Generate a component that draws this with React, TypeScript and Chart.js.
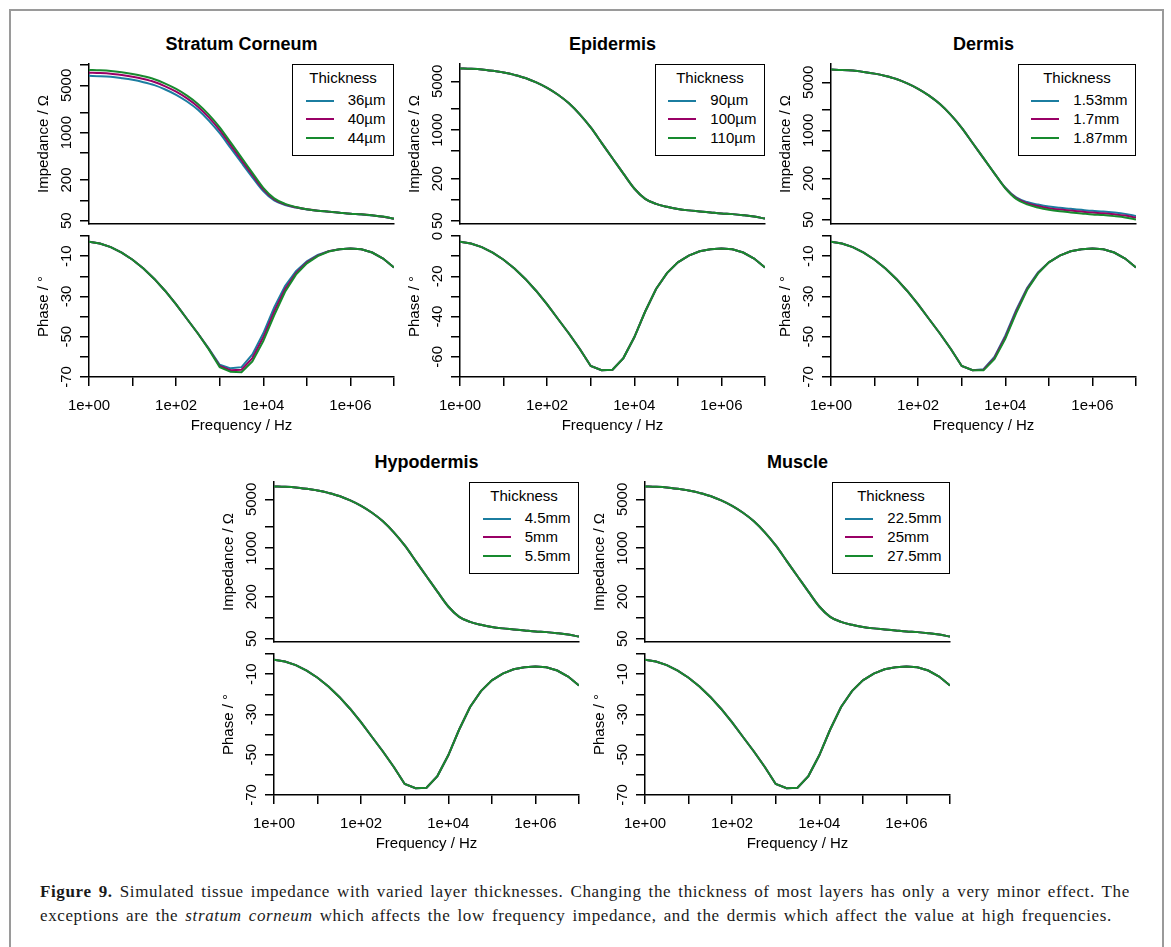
import React, { useEffect, useRef } from 'react';
import { Chart, registerables } from 'chart.js';

Chart.register(...registerables);
Chart.defaults.font.family = '"Liberation Sans", Arial, sans-serif';

// ---------------- data ----------------
const FREQ_HZ = [
  1, 1.778, 3.162, 5.623, 10, 17.78, 31.62, 56.23, 100, 177.8, 316.2, 562.3,
  1000, 1778, 3162, 5623, 10000, 17783, 31623, 56234, 100000, 177828, 316228,
  562341, 1000000, 1778279, 3162278, 5623413, 10000000,
];

// default layer thicknesses (curves that overlap in every panel)
const BASE_IMPEDANCE = [
  7690, 7600, 7430, 7100, 6710, 6200, 5600, 4830, 4030, 3210, 2420, 1680,
  1090, 656, 394, 237, 145, 103, 87, 79, 73.6, 70.3, 68, 65.7, 63.5, 62.1, 60,
  57.4, 53.6,
];
const BASE_PHASE = [
  -2.8, -3.7, -5.5, -8.3, -11.8, -16.1, -21.3, -27.3, -34.0, -41.2, -48.4,
  -56.1, -64.5, -66.6, -66.4, -60.6, -50.3, -37.5, -26.3, -18.4, -13.1, -9.7,
  -7.6, -6.6, -6.2, -6.6, -8.2, -11.2, -15.6,
];

// stratum corneum 36um / 44um
const SC_IMP_36 = [
  6920, 6840, 6690, 6390, 6040, 5580, 5040, 4350, 3630, 2890, 2180, 1510, 981,
  594, 359, 219, 137, 99.4, 85.3, 78.2, 73.2, 70.1, 67.9, 65.6, 63.4, 62.0,
  59.9, 57.3, 53.5,
];
const SC_IMP_44 = [
  8460, 8360, 8170, 7810, 7380, 6820, 6160, 5310, 4430, 3530, 2660, 1850,
  1200, 718, 429, 255, 153, 107, 88.7, 79.8, 74, 70.4, 68.1, 65.8, 63.6, 62.2,
  60.1, 57.5, 53.7,
];
const SC_PHASE_36 = [
  -2.8, -3.7, -5.5, -8.3, -11.8, -16.1, -21.3, -27.3, -34.0, -41.2, -48.4,
  -55.9, -63.9, -65.7, -65.1, -58.8, -48.3, -35.5, -24.8, -17.5, -12.6, -9.4,
  -7.5, -6.6, -6.2, -6.6, -8.2, -11.2, -15.6,
];
const SC_PHASE_44 = [
  -2.8, -3.7, -5.5, -8.3, -11.8, -16.1, -21.3, -27.3, -34.0, -41.2, -48.4,
  -56.3, -65.1, -67.4, -67.6, -62.3, -52.2, -39.4, -27.7, -19.2, -13.6, -10.0,
  -7.7, -6.6, -6.2, -6.6, -8.2, -11.2, -15.6,
];

// dermis 1.53mm / 1.87mm
const DERMIS_IMP_153 = [
  7690, 7600, 7430, 7100, 6710, 6200, 5600, 4830, 4030, 3210, 2420, 1680,
  1090, 656, 394, 237, 146.5, 105.6, 90.5, 83, 77.6, 74.4, 72.1, 69.6, 67.3,
  65.8, 63.6, 60.8, 56.8,
];
const DERMIS_IMP_187 = [
  7690, 7600, 7430, 7100, 6710, 6200, 5600, 4830, 4030, 3210, 2420, 1680,
  1090, 656, 394, 237, 143.6, 100.4, 83.5, 75.1, 69.6, 66.2, 63.9, 61.8, 59.7,
  58.4, 56.4, 54.0, 50.4,
];
const DERMIS_PHASE_153 = [
  -2.8, -3.7, -5.5, -8.3, -11.8, -16.1, -21.3, -27.3, -34.0, -41.2, -48.4,
  -56.1, -64.5, -66.6, -66.1, -60.0, -49.5, -36.7, -25.8, -18.1, -13.1, -9.7,
  -7.6, -6.6, -6.2, -6.6, -8.2, -11.2, -15.6,
];
const DERMIS_PHASE_187 = [
  -2.8, -3.7, -5.5, -8.3, -11.8, -16.1, -21.3, -27.3, -34.0, -41.2, -48.4,
  -56.1, -64.5, -66.6, -66.7, -61.2, -51.1, -38.3, -26.8, -18.7, -13.1, -9.7,
  -7.6, -6.6, -6.2, -6.6, -8.2, -11.2, -15.6,
];

const SC_THICKNESS = ['36µm', '40µm', '44µm'];
const EPIDERMIS_THICKNESS = ['90µm', '100µm', '110µm'];
const DERMIS_THICKNESS = ['1.53mm', '1.7mm', '1.87mm'];
const HYPODERMIS_THICKNESS = ['4.5mm', '5mm', '5.5mm'];
const MUSCLE_THICKNESS = ['22.5mm', '25mm', '27.5mm'];

const FREQ_TICKS = [1, 10, 100, 1000, 10000, 100000, 1000000, 10000000];
const FREQ_TICK_LABELS = ['1e+00', '', '1e+02', '', '1e+04', '', '1e+06', ''];
const IMP_TICKS = [50, 100, 200, 500, 1000, 2000, 5000, 10000];
const IMP_TICK_LABELS = [50, 200, 1000, 5000];
const PHASE_TICKS = [0, -10, -20, -30, -40, -50, -60, -70];
const PHASE_LABELS_ODD = [-10, -30, -50, -70];
const PHASE_LABELS_EVEN = [0, -20, -40, -60];

const SERIES_COLORS = ['#1B7DA0', '#990066', '#178A2E'];

// ---------------- layout ----------------
const PLOT_W = 305;
const IMP_H = 160;
const PHASE_H = 141;
const RIGHT_PAD = 11;
const AXIS_FONT = { family: '"Liberation Sans", Arial, sans-serif', size: 15 };

type PanelCfg = {
  title: string;
  labels: string[];
  imp: number[][];
  phase: number[][];
  impRange: [number, number];
  phaseLabels: number[];
  left: number;
  top: number;
};

const PANELS: PanelCfg[] = [
  {
    title: 'Stratum Corneum', labels: SC_THICKNESS,
    imp: [SC_IMP_36, BASE_IMPEDANCE, SC_IMP_44],
    phase: [SC_PHASE_36, BASE_PHASE, SC_PHASE_44],
    impRange: [44.7, 10350], phaseLabels: PHASE_LABELS_ODD, left: 89, top: 64,
  },
  {
    title: 'Epidermis', labels: EPIDERMIS_THICKNESS,
    imp: [BASE_IMPEDANCE, BASE_IMPEDANCE, BASE_IMPEDANCE],
    phase: [BASE_PHASE, BASE_PHASE, BASE_PHASE],
    impRange: [44.8, 8890], phaseLabels: PHASE_LABELS_EVEN, left: 460, top: 64,
  },
  {
    title: 'Dermis', labels: DERMIS_THICKNESS,
    imp: [DERMIS_IMP_153, BASE_IMPEDANCE, DERMIS_IMP_187],
    phase: [DERMIS_PHASE_153, BASE_PHASE, DERMIS_PHASE_187],
    impRange: [43.3, 9270], phaseLabels: PHASE_LABELS_ODD, left: 831, top: 64,
  },
  {
    title: 'Hypodermis', labels: HYPODERMIS_THICKNESS,
    imp: [BASE_IMPEDANCE, BASE_IMPEDANCE, BASE_IMPEDANCE],
    phase: [BASE_PHASE, BASE_PHASE, BASE_PHASE],
    impRange: [44.8, 8890], phaseLabels: PHASE_LABELS_ODD, left: 274, top: 482,
  },
  {
    title: 'Muscle', labels: MUSCLE_THICKNESS,
    imp: [BASE_IMPEDANCE, BASE_IMPEDANCE, BASE_IMPEDANCE],
    phase: [BASE_PHASE, BASE_PHASE, BASE_PHASE],
    impRange: [44.8, 8890], phaseLabels: PHASE_LABELS_ODD, left: 645, top: 482,
  },
];

function makeDatasets(series: number[][], labels: string[], smooth: boolean) {
  return series.map((vals, k) => ({
    label: labels[k],
    data: FREQ_HZ.map((f, i) => ({ x: f, y: vals[i] })),
    borderColor: SERIES_COLORS[k],
    backgroundColor: SERIES_COLORS[k],
    borderWidth: 2,
    pointRadius: 0,
    fill: false,
    tension: smooth ? 0.4 : 0,
    cubicInterpolationMode: smooth ? 'monotone' : 'default',
    order: 3 - k,
  }));
}

function yLabelPlugin(values: number[]) {
  return {
    id: 'rYLabels',
    afterDraw(chart: any) {
      const { ctx, chartArea } = chart;
      const ys = chart.scales.y;
      ctx.save();
      ctx.font = '15px "Liberation Sans", Arial, sans-serif';
      ctx.fillStyle = '#000';
      ctx.textAlign = 'center';
      ctx.textBaseline = 'alphabetic';
      for (const v of values) {
        const py = ys.getPixelForValue(v);
        ctx.save();
        ctx.translate(chartArea.left - 18, py);
        ctx.rotate(-Math.PI / 2);
        ctx.fillText(String(v), 0, 0);
        ctx.restore();
      }
      ctx.restore();
    },
  };
}

const lineGrid = (ticks: boolean) => ({
  display: true,
  drawOnChartArea: false,
  drawTicks: ticks,
  tickLength: 9,
  color: '#000',
  lineWidth: 1.5,
});
const lineBorder = { display: true, color: '#000', width: 1.5 };

function impConfig(cfg: PanelCfg): any {
  return {
    type: 'line',
    data: { datasets: makeDatasets(cfg.imp, cfg.labels, true) },
    options: {
      animation: false,
      responsive: false,
      devicePixelRatio: 1,
      events: [],
      layout: { autoPadding: false, padding: { left: 0, top: 6, right: RIGHT_PAD, bottom: 0 } },
      plugins: { legend: { display: false }, tooltip: { enabled: false }, title: { display: false } },
      scales: {
        x: {
          type: 'logarithmic', min: 1, max: 1e7, position: 'bottom',
          ticks: { display: false, autoSkip: false },
          grid: lineGrid(false),
          border: lineBorder,
          afterBuildTicks: (s: any) => { s.ticks = FREQ_TICKS.map((v) => ({ value: v })); },
          afterFit: (s: any) => { s.height = 8; },
        },
        y: {
          type: 'logarithmic', min: cfg.impRange[0], max: cfg.impRange[1], position: 'left',
          ticks: { display: false, autoSkip: false },
          grid: lineGrid(true),
          border: lineBorder,
          title: { display: true, text: 'Impedance / Ω', font: AXIS_FONT, color: '#000', padding: { top: 6, bottom: 0 } },
          afterBuildTicks: (s: any) => {
            s.ticks = IMP_TICKS.filter((v) => v >= cfg.impRange[0] && v <= cfg.impRange[1]).map((v) => ({ value: v }));
          },
          afterFit: (s: any) => { s.width = 60; },
        },
      },
    },
    plugins: [yLabelPlugin(IMP_TICK_LABELS)],
  };
}

function phaseConfig(cfg: PanelCfg): any {
  return {
    type: 'line',
    data: { datasets: makeDatasets(cfg.phase, cfg.labels, false) },
    options: {
      animation: false,
      responsive: false,
      devicePixelRatio: 1,
      events: [],
      layout: { autoPadding: false, padding: { left: 0, top: 4, right: RIGHT_PAD, bottom: 0 } },
      plugins: { legend: { display: false }, tooltip: { enabled: false }, title: { display: false } },
      scales: {
        x: {
          type: 'logarithmic', min: 1, max: 1e7, position: 'bottom',
          ticks: {
            display: true, autoSkip: false, maxRotation: 0, minRotation: 0, padding: 11,
            font: AXIS_FONT, color: '#000',
            callback: (_v: any, i: number) => FREQ_TICK_LABELS[i] ?? '',
          },
          grid: lineGrid(true),
          border: lineBorder,
          title: { display: true, text: 'Frequency / Hz', font: AXIS_FONT, color: '#000', padding: { top: 0, bottom: 6 } },
          afterBuildTicks: (s: any) => { s.ticks = FREQ_TICKS.map((v) => ({ value: v })); },
          afterFit: (s: any) => { s.height = 64; },
        },
        y: {
          type: 'linear', min: -70, max: 0, position: 'left',
          ticks: { display: false, autoSkip: false },
          grid: lineGrid(true),
          border: lineBorder,
          title: { display: true, text: 'Phase / °', font: AXIS_FONT, color: '#000', padding: { top: 6, bottom: 0 } },
          afterBuildTicks: (s: any) => { s.ticks = PHASE_TICKS.map((v) => ({ value: v })); },
          afterFit: (s: any) => { s.width = 60; },
        },
      },
    },
    plugins: [yLabelPlugin(cfg.phaseLabels)],
  };
}

function Panel({ cfg }: { cfg: PanelCfg }) {
  const impRef = useRef<HTMLCanvasElement>(null);
  const phRef = useRef<HTMLCanvasElement>(null);
  const cw = 60 + PLOT_W + RIGHT_PAD;
  const impH = 6 + IMP_H + 8;
  const phH = 4 + PHASE_H + 64;

  useEffect(() => {
    const c1 = new Chart(impRef.current as HTMLCanvasElement, impConfig(cfg));
    const c2 = new Chart(phRef.current as HTMLCanvasElement, phaseConfig(cfg));
    return () => {
      c1.destroy();
      c2.destroy();
    };
  }, [cfg]);

  const T = cfg.top;
  const L = cfg.left;
  return (
    <>
      <div
        style={{
          position: 'absolute', left: L, top: T - 30.2, width: PLOT_W, textAlign: 'center',
          fontFamily: '"Liberation Sans", Arial, sans-serif', fontWeight: 'bold', fontSize: 18,
          lineHeight: '20px', color: '#000',
        }}
      >
        {cfg.title}
      </div>
      <canvas
        ref={impRef}
        width={cw}
        height={impH}
        style={{ position: 'absolute', left: L - 60, top: T - 6, width: cw, height: impH }}
      />
      <canvas
        ref={phRef}
        width={cw}
        height={phH}
        style={{ position: 'absolute', left: L - 60, top: T + 168, width: cw, height: phH }}
      />
      <div
        style={{
          position: 'absolute', right: 1171 - (L + PLOT_W), top: T, height: 92,
          boxSizing: 'border-box', border: '1.5px solid #000', background: '#fff',
          padding: '0 7.5px 0 54.5px', fontFamily: '"Liberation Sans", Arial, sans-serif',
          fontSize: 15, color: '#000', whiteSpace: 'nowrap',
        }}
      >
        <div style={{ marginLeft: -54.5, marginRight: -7.5, textAlign: 'center', lineHeight: '19px', marginTop: 2.8 }}>
          Thickness
        </div>
        {cfg.labels.map((lab, k) => (
          <div key={lab} style={{ position: 'relative', lineHeight: '18.7px', marginTop: k === 0 ? 4.4 : 0 }}>
            <span
              style={{
                position: 'absolute', left: -42, top: 8.5, width: 28, height: 2,
                background: SERIES_COLORS[k],
              }}
            />
            {lab}
          </div>
        ))}
      </div>
    </>
  );
}

const CAPTION_STYLE: React.CSSProperties = {
  position: 'absolute', left: 40,
  fontFamily: '"Liberation Serif", "Times New Roman", serif', fontSize: 17, lineHeight: '24px',
  letterSpacing: '0.62px', wordSpacing: '2.2px', color: '#1a1a1a', whiteSpace: 'nowrap',
};

export default function App() {
  return (
    <div
      style={{
        position: 'absolute', left: 0, top: 0, width: 1171, height: 947, overflow: 'hidden',
        background: '#fff',
      }}
    >
      <div
        style={{
          position: 'absolute', left: 9, top: 9, width: 1155, height: 960, boxSizing: 'border-box',
          border: '2px solid #9a9a9a', borderBottom: 'none',
        }}
      />
      {PANELS.map((p) => (
        <Panel key={p.title} cfg={p} />
      ))}
      <div style={{ ...CAPTION_STYLE, top: 880 }}>
        <b>Figure 9.</b> Simulated tissue impedance with varied layer thicknesses. Changing the thickness of most
        layers has only a very minor effect. The
      </div>
      <div style={{ ...CAPTION_STYLE, top: 904 }}>
        exceptions are the <i>stratum corneum</i> which affects the low frequency impedance, and the dermis which
        affect the value at high frequencies.
      </div>
    </div>
  );
}
